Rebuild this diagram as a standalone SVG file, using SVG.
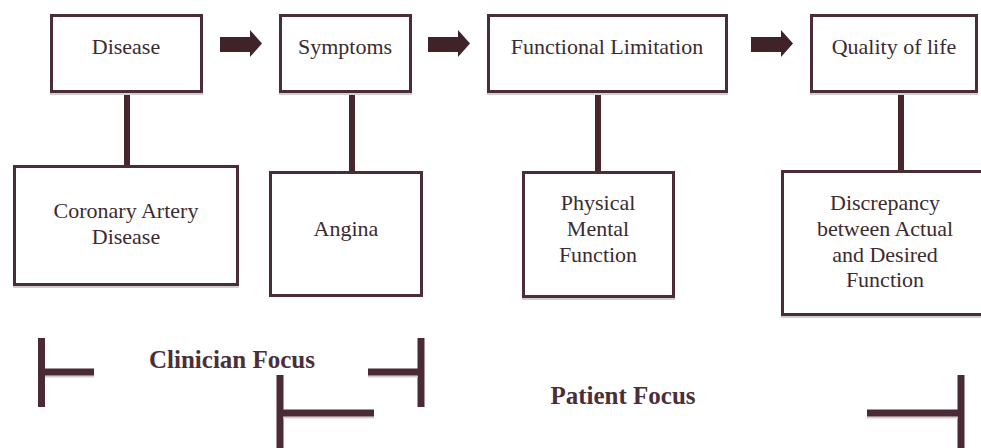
<svg xmlns="http://www.w3.org/2000/svg" width="981" height="448" viewBox="0 0 981 448">
  <style>
    .box { fill: #ffffff; stroke: #4b2d35; stroke-width: 3; }
    .shadow { fill: #cfcfcf; }
    .stem { fill: #46272e; }
    .arrow { fill: #3f2329; }
    .bar { fill: #4a2a35; }
    .t { font-family: "Liberation Serif", "Times New Roman", serif; font-size: 22px; fill: #3b2b30; text-anchor: middle; }
    .lbl { font-family: "Liberation Serif", "Times New Roman", serif; font-size: 25px; font-weight: bold; fill: #4a2f38; text-anchor: middle; }
  </style>
  <rect width="981" height="448" fill="#ffffff"/>

  <g id="connectors">
    <rect class="stem" x="124" y="93" width="6" height="73"/>
    <rect class="stem" x="349" y="93" width="6" height="79"/>
    <rect class="stem" x="595" y="93" width="6" height="79"/>
    <rect class="stem" x="898" y="93" width="6" height="78"/>
    <polygon class="arrow" points="220,37 250,37 250,30 262,43.5 250,57 250,52 220,52"/>
    <polygon class="arrow" points="428,37 458,37 458,30 470,43.5 458,57 458,52 428,52"/>
    <polygon class="arrow" points="751,37 781,37 781,30 793,43.5 781,57 781,52 751,52"/>
  </g>

  <g id="disease">
    <rect class="shadow" x="50" y="93" width="153" height="2"/>
    <rect class="box" x="51.5" y="15.5" width="150" height="76"/>
    <text class="t" x="126" y="54">Disease</text>
  </g>
  <g id="symptoms">
    <rect class="shadow" x="279" y="93" width="133" height="2"/>
    <rect class="box" x="280.5" y="15.5" width="130" height="76"/>
    <text class="t" x="345" y="54">Symptoms</text>
  </g>
  <g id="functional-limitation">
    <rect class="shadow" x="487" y="93" width="241" height="2"/>
    <rect class="box" x="488.5" y="15.5" width="238" height="76"/>
    <text class="t" x="607" y="54">Functional Limitation</text>
  </g>
  <g id="quality-of-life">
    <rect class="shadow" x="810" y="93" width="168" height="2"/>
    <rect class="box" x="811.5" y="15.5" width="165" height="76"/>
    <text class="t" x="894" y="54">Quality of life</text>
  </g>

  <g id="coronary-artery-disease">
    <rect class="shadow" x="13" y="286" width="226" height="2"/>
    <rect class="box" x="14.5" y="166.5" width="223" height="118"/>
    <text class="t" x="126" y="218">Coronary Artery</text>
    <text class="t" x="126" y="244">Disease</text>
  </g>
  <g id="angina">
    <rect class="box" x="270.5" y="172.5" width="151" height="123"/>
    <text class="t" x="346" y="236">Angina</text>
  </g>
  <g id="physical-mental-function">
    <rect class="shadow" x="522" y="298" width="153" height="2"/>
    <rect class="box" x="523.5" y="172.5" width="150" height="124"/>
    <text class="t" x="598" y="210">Physical</text>
    <text class="t" x="598" y="236">Mental</text>
    <text class="t" x="598" y="262">Function</text>
  </g>
  <g id="discrepancy">
    <rect class="shadow" x="781" y="316" width="200" height="2"/>
    <rect class="box" x="782.5" y="171.5" width="210" height="143"/>
    <text class="t" x="885" y="210">Discrepancy</text>
    <text class="t" x="885" y="236">between Actual</text>
    <text class="t" x="885" y="262">and Desired</text>
    <text class="t" x="885" y="287">Function</text>
  </g>

  <g id="clinician-focus">
    <rect class="bar" x="38" y="338" width="7" height="69"/>
    <rect class="shadow" x="45" y="375.5" width="49" height="2"/>
    <rect class="bar" x="45" y="368.5" width="49" height="7"/>
    <rect class="bar" x="417.5" y="338" width="7" height="69"/>
    <rect class="shadow" x="368" y="375.5" width="50" height="2"/>
    <rect class="bar" x="368" y="368.5" width="50" height="7"/>
    <text class="lbl" x="232" y="368">Clinician Focus</text>
  </g>

  <g id="patient-focus">
    <rect class="bar" x="276.5" y="375" width="7" height="73"/>
    <rect class="shadow" x="283" y="416.5" width="91" height="2"/>
    <rect class="bar" x="283" y="409.5" width="91" height="7"/>
    <rect class="bar" x="957.5" y="375" width="7" height="73"/>
    <rect class="shadow" x="867" y="416.5" width="91" height="2"/>
    <rect class="bar" x="867" y="409.5" width="91" height="7"/>
    <text class="lbl" x="623" y="404">Patient Focus</text>
  </g>
</svg>
